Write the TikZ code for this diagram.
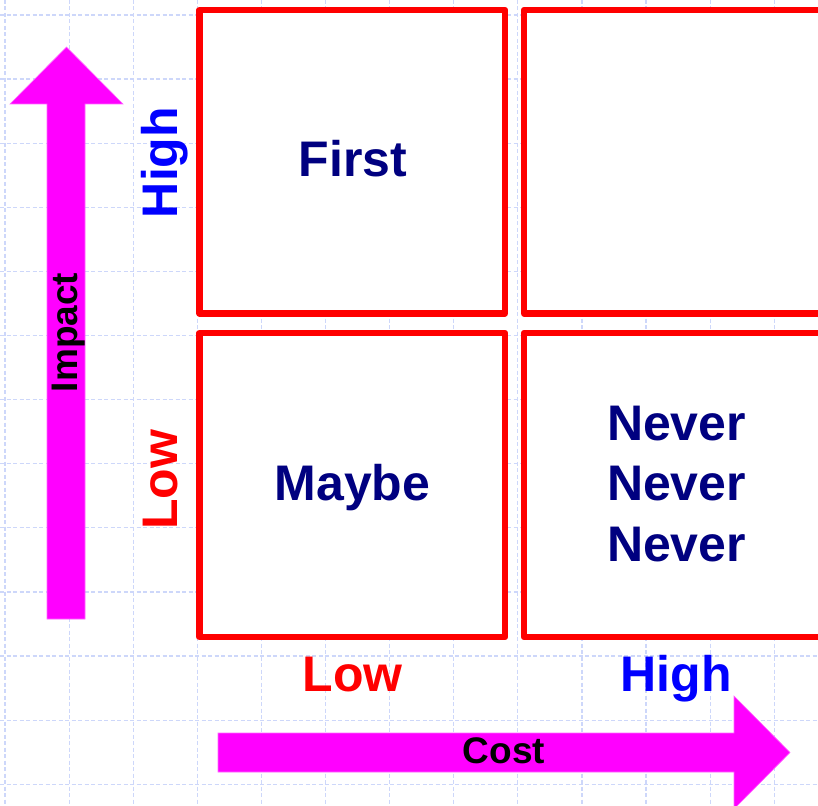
\documentclass[tikz,border=0pt]{standalone}
\usepackage{fontspec}
\setmainfont{Liberation Sans}
\definecolor{navy}{RGB}{0,0,128}
\definecolor{gridblue}{RGB}{205,215,250}
\definecolor{pureblue}{RGB}{0,0,255}
\definecolor{purered}{RGB}{255,0,0}
\definecolor{mag}{RGB}{255,0,255}
\begin{document}
\begin{tikzpicture}[x=1pt,y=-1pt,
  gridline/.style={draw=gridblue, line width=1.2pt, dash pattern=on 4pt off 2.5pt},
  quad/.style={draw=purered, fill=white, line width=6.5pt, line join=round, rectangle, inner sep=0pt, outer sep=0pt, minimum width=305.5pt},
  bigarrow/.style={fill=mag, draw=mag!60, line width=0.6pt},
  lbl/.style={font=\fontsize{50}{60}\selectfont\bfseries, inner sep=0pt, anchor=base},
  axislbl/.style={font=\fontsize{37}{44}\selectfont\bfseries, inner sep=0pt, anchor=base, text=black}
]
\useasboundingbox (0,0) rectangle (818,805);
\clip (0,0) rectangle (818,805);
\fill[white] (0,0) rectangle (818,805);
% grid
\foreach \k in {0,...,12}{
  \draw[gridline] ({5+64.1*\k},0) -- ({5+64.1*\k},805);
  \draw[gridline] (0,{15+64.1*\k}) -- (818,{15+64.1*\k});
}
% quadrants
\node[quad, minimum height=303.5pt] (tl) at (352.25,161.75) {};
\node[quad, minimum height=303.5pt] (tr) at (676.75,161.75) {};
\node[quad, minimum height=304pt] (bl) at (352.25,485) {};
\node[quad, minimum height=304pt] (br) at (676.75,485) {};
% arrows
\draw[bigarrow] (47,619) -- (47,104) -- (10,104) -- (66.5,47) -- (123,104) -- (85,104) -- (85,619) -- cycle;
\draw[bigarrow] (218,733) -- (734,733) -- (734,696) -- (790,752.5) -- (734,809) -- (734,772) -- (218,772) -- cycle;
% quadrant texts
\node[lbl, text=navy] (first) at (353,176.7) {First};
\node[lbl, text=navy] (maybe) at (352.5,500.7) {Maybe};
\node[lbl, text=navy] (never1) at (676.5,440) {Never};
\node[lbl, text=navy] (never2) at (676.5,500.7) {Never};
\node[lbl, text=navy] (never3) at (676.5,561.5) {Never};
% axis level labels
\node[lbl, text=pureblue, rotate=90] (yhigh) at (177,162.5) {High};
\node[lbl, text=purered, rotate=90] (ylow) at (177,480) {Low};
\node[lbl, text=purered] (xlow) at (352.5,691) {Low};
\node[lbl, text=pureblue] (xhigh) at (676,691) {High};
% axis names
\node[axislbl, rotate=90] (impact) at (77,332.5) {Impact};
\node[axislbl] (cost) at (504,763) {Cost};
\end{tikzpicture}
\end{document}
